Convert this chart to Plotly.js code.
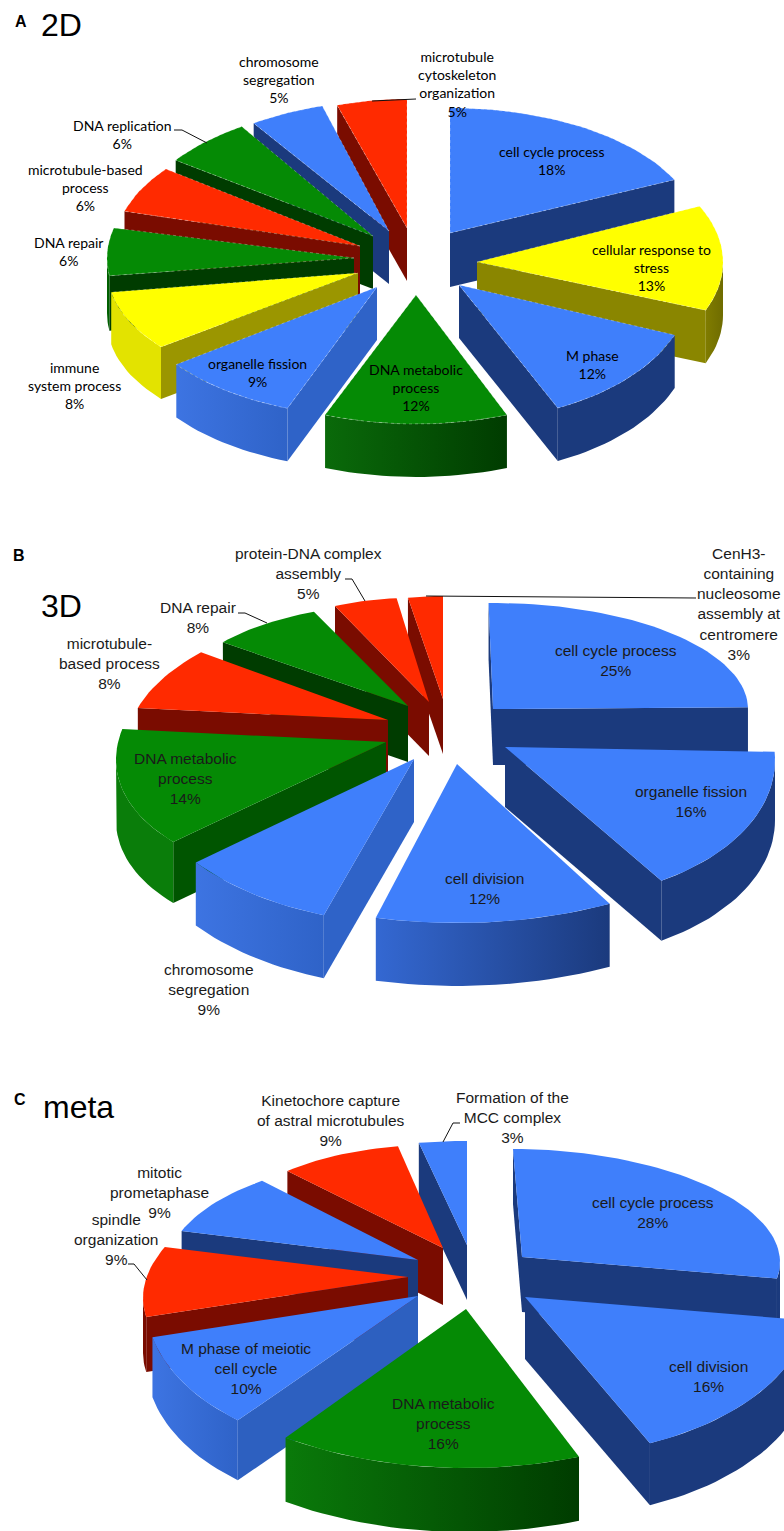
<!DOCTYPE html>
<html><head><meta charset="utf-8">
<script src="https://cdn.plot.ly/plotly-3.0.1.min.js"></script>
<style>html,body{margin:0;padding:0;background:#fff}#c{width:784px;height:1531px}</style>
</head><body><div id="c"></div>
<script>
// ---------- data ----------
const catsA = ['cell cycle process','cellular response to<br>stress','M phase','DNA metabolic<br>process','organelle fission','immune<br>system process','DNA repair','microtubule-based<br>process','DNA replication','chromosome<br>segregation','microtubule<br>cytoskeleton<br>organization'];
const valsA = [18,13,12,12,9,8,6,6,6,5,5];
const catsB = ['cell cycle process','organelle fission','cell division','chromosome<br>segregation','DNA metabolic<br>process','microtubule-<br>based process','DNA repair','protein-DNA complex<br>assembly','CenH3-<br>containing<br>nucleosome<br>assembly at<br>centromere'];
const valsB = [25,16,12,9,14,8,8,5,3];
const catsC = ['cell cycle process','cell division','DNA metabolic<br>process','M phase of meiotic<br>cell cycle','spindle<br>organization','mitotic<br>prometaphase','Kinetochore capture<br>of astral microtubules','Formation of the<br>MCC complex'];
const valsC = [28,16,16,10,9,9,9,3];

// ---------- colours ----------
const BLUE='#3f7ffb',NAVY='#1b3a7d',MID='#2f63c8',LITE='#3d74e2',GREEN='#058a05',DKG='#003c00',RED='#ff2a00',DKR='#7a0c00',YEL='#ffff00',OLV='#807c00';
const styleA=[[BLUE,NAVY,NAVY,NAVY],[YEL,'#8a8600',OLV,'#6f6c00'],[BLUE,NAVY,NAVY,NAVY],[GREEN,DKG,'#0a6a0a',DKG],[BLUE,MID,LITE,MID],[YEL,'#9b9600','#e3e300','#e3e300'],[GREEN,DKG,'#006000','#006000'],[RED,DKR,DKR,DKR],[GREEN,DKG,DKG,DKG],[BLUE,NAVY,NAVY,NAVY],[RED,DKR,DKR,DKR]];
const styleB=[[BLUE,NAVY,NAVY,NAVY],[BLUE,NAVY,NAVY,NAVY],[BLUE,NAVY,'#3468d2',NAVY],[BLUE,MID,LITE,MID],[GREEN,'#005500','#0a7d0a','#0a7d0a'],[RED,DKR,DKR,DKR],[GREEN,DKG,DKG,DKG],[RED,DKR,DKR,DKR],[RED,DKR,DKR,DKR]];
const styleC=[[BLUE,NAVY,NAVY,NAVY],[BLUE,NAVY,NAVY,NAVY],[GREEN,DKG,'#0a7a0a',DKG],[BLUE,'#2d60c0',LITE,MID],[RED,DKR,DKR,DKR],[BLUE,NAVY,NAVY,NAVY],[RED,DKR,DKR,DKR],[BLUE,NAVY,NAVY,NAVY]];

// ---------- per-slice perspective: explosion point, radii, turn, skew, thickness ----------
const geomA=[[450,233,248,125,0,0,54],[477,262,246,131,0,0,53],[459,285,232,136,0,0,53],[416,295,247,129,3.6,0,53],[377,287,250,130,3,0,53],[358,273,250,120,1.6,0,52],[354,258,247,128,2.8,0,55],[360,246,245,126,5.2,0,53],[373,236,243,130,3.3,0,53],[389,231,242,130,2,0,53],[407,228,226,129,0,0,53]];
const geomB=[[493,709,255,106,-1,0,56],[505,747,270,155,-3,.048,60],[457,764,320,159,3.9,0,63],[414,759,280,165,8,0,63],[386,742,270,140,8.8,-.065,61],[388,720,259,118,11.4,-.0745,52],[408,706,233,102,5,.01,56],[429,702,207,104,1.8,.035,54],[443,699,187,103,0,0,55]];
const geomC=[[522,1257,258,108,-2,.02,55],[525,1297,285,160,-4.4,.02,62],[466,1309,307,159,0,0,64],[418,1296,272,160,5.5,-.025,60],[408,1277,265,124,9,-.079,55],[418,1260,250,106,4.6,-.023,50],[443,1248,224,103,-.8,.018,57],[467,1245,257,104,0,0,55]];
const orderA=[10,9,8,7,6,0,1,2,5,4,3], orderB=[8,7,6,5,4,0,1,2,3], orderC=[7,6,5,4,3,2,0,1];

// ---------- label anchors ----------
const labelA=[[551,160],[651,267],[592,364],[416,387],[257,372],[74,385],[68,251],[85,187],[122,134],[279,79],[457,84]];
const labelB=[[616,660],[691,801],[484,888],[209,989],[185,778],[109,663],[198,617],[308,573],[739,604]];
const labelC=[[653,1212],[708,1376],[443,1423],[246,1368],[116,1239],[159,1192],[331,1120],[512,1117]];
const leaders=[[[174,182,207],[130,130,143]],[[416,372],[99,101]],[[345,352,365],[579,579,601]],[[696,426],[598,596]],[[238,245,267],[613,613,623]],[[460,453,443],[1123,1123,1142]],[[128,134,147],[1264,1264,1280]]];
const panels=[['A',21,21],['B',19,555],['C',20,1099]];
const heads=[['2D',61,25],['3D',61,606],['meta',78,1107]];

const traces=[],annotations=[];
const rad=d=>d*Math.PI/180;
function pt(g,th){const X=g[2]*Math.sin(rad(th));return [g[0]+X,g[1]-g[3]*Math.cos(rad(th))+g[5]*X];}
function poly(p,extra){traces.push(Object.assign({type:'scatter',mode:'lines',x:p.map(q=>q[0]),y:p.map(q=>q[1]),fill:'toself',hoverinfo:'skip',showlegend:false},extra));}
function solid(p,c){poly(p,{fillcolor:c,line:{width:0,color:c}});}
function pie(vals,cats,styles,geom,order,labels,font,edge){
  const tot=vals.reduce((a,b)=>a+b,0);let acc=0;
  const spans=vals.map(v=>{const s=[acc/tot*360,(acc+v)/tot*360];acc+=v;return s;});
  order.forEach(i=>{
    const g=geom[i],st=styles[i],t1=spans[i][0]+g[4],t2=spans[i][1]+g[4],h=g[6];
    const arc=[];const n=Math.max(8,Math.ceil((t2-t1)/2));
    for(let k=0;k<=n;k++)arc.push(pt(g,t1+(t2-t1)*k/n));
    const A=[g[0],g[1]],m=arc[Math.floor(n/2)];
    // cut faces, only when turned towards the viewer
    [arc[0],arc[n]].forEach(e=>{
      const ex=e[0]-A[0],ey=e[1]-A[1];
      const c1=ex*(m[1]-A[1])-ey*(m[0]-A[0]),c2=ex;
      if(c1*c2<0)solid([A,e,[e[0],e[1]+h],[A[0],A[1]+h],A],st[1]);
    });
    // outer rim
    const a=Math.max(t1,90),b=Math.min(t2,270);
    if(b>a){
      const up=[];const nn=Math.max(6,Math.ceil((b-a)/2));
      for(let k=0;k<=nn;k++)up.push(pt(g,a+(b-a)*k/nn));
      const dn=up.slice().reverse().map(q=>[q[0],q[1]+h]);
      const loop=up.concat(dn,[up[0]]);
      if(st[2]===st[3])solid(loop,st[2]);
      else poly(loop,{line:{width:0,color:st[2]},fillgradient:{type:'horizontal',colorscale:[[0,st[2]],[1,st[3]]]}});
    }
    // top
    const top=[A].concat(arc,[A]);
    poly(top,{fillcolor:st[0],name:cats[i].replace(/<br>/g,' '),line:edge?{width:.6,color:'rgba(255,255,255,.5)',dash:'dot'}:{width:0,color:st[0]}});
    annotations.push({x:labels[i][0],y:labels[i][1],xref:'x',yref:'y',showarrow:false,xanchor:'center',yanchor:'middle',align:'center',
      text:cats[i]+'<br>'+vals[i]+'%',font:font});
  });
}
const lato={family:'Lato, sans-serif',size:14,color:'#000'};
const arial={family:'Liberation Sans, Arial, sans-serif',size:15.5,color:'#1a1a1a'};
pie(valsA,catsA,styleA,geomA,orderA,labelA,lato,true);
pie(valsB,catsB,styleB,geomB,orderB,labelB,arial,false);
pie(valsC,catsC,styleC,geomC,orderC,labelC,arial,false);
leaders.forEach(l=>traces.push({type:'scatter',mode:'lines',x:l[0],y:l[1],line:{color:'#111',width:1},hoverinfo:'skip',showlegend:false}));
panels.forEach(p=>annotations.push({x:p[1],y:p[2],xref:'x',yref:'y',showarrow:false,text:'<b>'+p[0]+'</b>',font:{family:'Liberation Sans, Arial, sans-serif',size:16,color:'#000'}}));
heads.forEach(p=>annotations.push({x:p[1],y:p[2],xref:'x',yref:'y',showarrow:false,text:p[0],font:{family:'Liberation Sans, Arial, sans-serif',size:32,color:'#000'}}));

Plotly.newPlot('c',traces,{
  width:784,height:1531,margin:{l:0,r:0,t:0,b:0},showlegend:false,paper_bgcolor:'#fff',plot_bgcolor:'#fff',
  xaxis:{range:[0,784],visible:false,fixedrange:true},
  yaxis:{range:[1531,0],visible:false,fixedrange:true},
  annotations:annotations
},{displayModeBar:false,staticPlot:true});
</script></body></html>
